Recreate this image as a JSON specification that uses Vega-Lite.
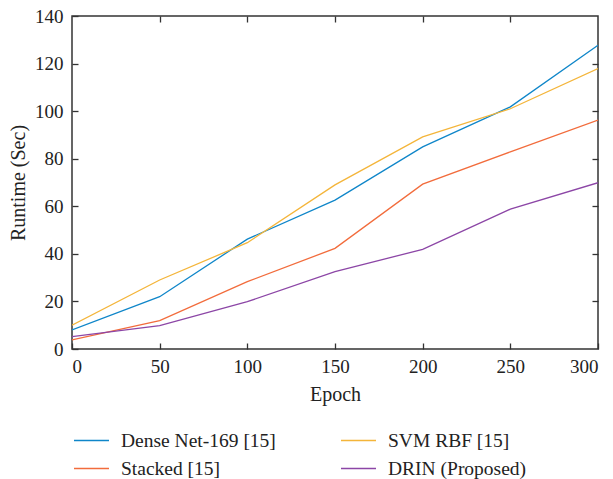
{
  "$schema": "https://vega.github.io/schema/vega-lite/v6.json",
  "width": 526,
  "height": 333,
  "autosize": "none",
  "padding": {"left": 72, "top": 16, "right": 15, "bottom": 130},
  "background": "white",
  "config": {
    "font": "Liberation Serif",
    "view": {"stroke": "#333", "strokeWidth": 1.5},
    "axis": {
      "grid": false,
      "domain": false,
      "tickColor": "#333",
      "tickSize": -6,
      "tickWidth": 1.3,
      "labelFont": "Liberation Serif",
      "labelFontSize": 19,
      "labelColor": "#222",
      "titleFont": "Liberation Serif",
      "titleFontSize": 20,
      "titleFontWeight": "normal",
      "titleColor": "#222"
    }
  },
  "data": {
    "values": [
      {"epoch": 0, "runtime": 8.0, "model": "Dense Net-169 [15]"},
      {"epoch": 50, "runtime": 22.0, "model": "Dense Net-169 [15]"},
      {"epoch": 100, "runtime": 46.2, "model": "Dense Net-169 [15]"},
      {"epoch": 150, "runtime": 62.6, "model": "Dense Net-169 [15]"},
      {"epoch": 200, "runtime": 85.0, "model": "Dense Net-169 [15]"},
      {"epoch": 250, "runtime": 101.8, "model": "Dense Net-169 [15]"},
      {"epoch": 300, "runtime": 127.7, "model": "Dense Net-169 [15]"},
      {"epoch": 0, "runtime": 10.0, "model": "SVM RBF [15]"},
      {"epoch": 50, "runtime": 29.0, "model": "SVM RBF [15]"},
      {"epoch": 100, "runtime": 44.7, "model": "SVM RBF [15]"},
      {"epoch": 150, "runtime": 69.0, "model": "SVM RBF [15]"},
      {"epoch": 200, "runtime": 89.2, "model": "SVM RBF [15]"},
      {"epoch": 250, "runtime": 101.0, "model": "SVM RBF [15]"},
      {"epoch": 300, "runtime": 117.9, "model": "SVM RBF [15]"},
      {"epoch": 0, "runtime": 3.8, "model": "Stacked [15]"},
      {"epoch": 50, "runtime": 11.9, "model": "Stacked [15]"},
      {"epoch": 100, "runtime": 28.3, "model": "Stacked [15]"},
      {"epoch": 150, "runtime": 42.3, "model": "Stacked [15]"},
      {"epoch": 200, "runtime": 69.3, "model": "Stacked [15]"},
      {"epoch": 250, "runtime": 82.9, "model": "Stacked [15]"},
      {"epoch": 300, "runtime": 96.2, "model": "Stacked [15]"},
      {"epoch": 0, "runtime": 5.2, "model": "DRIN (Proposed)"},
      {"epoch": 50, "runtime": 9.8, "model": "DRIN (Proposed)"},
      {"epoch": 100, "runtime": 19.9, "model": "DRIN (Proposed)"},
      {"epoch": 150, "runtime": 32.5, "model": "DRIN (Proposed)"},
      {"epoch": 200, "runtime": 41.9, "model": "DRIN (Proposed)"},
      {"epoch": 250, "runtime": 58.8, "model": "DRIN (Proposed)"},
      {"epoch": 300, "runtime": 69.9, "model": "DRIN (Proposed)"}
    ]
  },
  "resolve": {"axis": {"x": "independent", "y": "independent"}},
  "layer": [
    {
      "mark": {"type": "line", "strokeWidth": 1.3, "clip": true},
      "encoding": {
        "x": {
          "field": "epoch", "type": "quantitative",
          "scale": {"domain": [0, 300], "nice": false},
          "axis": {"values": [0, 50, 100, 150, 200, 250, 300], "title": "Epoch", "labelPadding": 14, "titlePadding": 8}
        },
        "y": {
          "field": "runtime", "type": "quantitative",
          "scale": {"domain": [0, 140], "nice": false},
          "axis": {"values": [0, 20, 40, 60, 80, 100, 120, 140], "title": "Runtime (Sec)", "labelPadding": 15, "titlePadding": 6}
        },
        "color": {
          "field": "model", "type": "nominal",
          "scale": {
            "domain": ["Dense Net-169 [15]", "SVM RBF [15]", "Stacked [15]", "DRIN (Proposed)"],
            "range": ["#0f86c9", "#f4b53a", "#f26c3c", "#8c46a6"]
          },
          "legend": {
            "title": null,
            "orient": "none",
            "legendX": 1,
            "legendY": 406,
            "direction": "horizontal",
            "columns": 2,
            "columnPadding": 62,
            "rowPadding": -9,
            "symbolType": "stroke",
            "symbolSize": 1225,
            "symbolStrokeWidth": 1.5,
            "labelFont": "Liberation Serif",
            "labelFontSize": 19.5,
            "labelColor": "#222",
            "labelOffset": 11
          }
        }
      }
    },
    {
      "mark": {"type": "line", "opacity": 0},
      "encoding": {
        "x": {
          "field": "epoch", "type": "quantitative",
          "axis": {"orient": "top", "values": [50, 100, 150, 200, 250], "labels": false, "title": null}
        },
        "y": {
          "field": "runtime", "type": "quantitative",
          "axis": {"orient": "right", "values": [20, 40, 60, 80, 100, 120], "labels": false, "title": null}
        },
        "detail": {"field": "model"}
      }
    }
  ]
}
